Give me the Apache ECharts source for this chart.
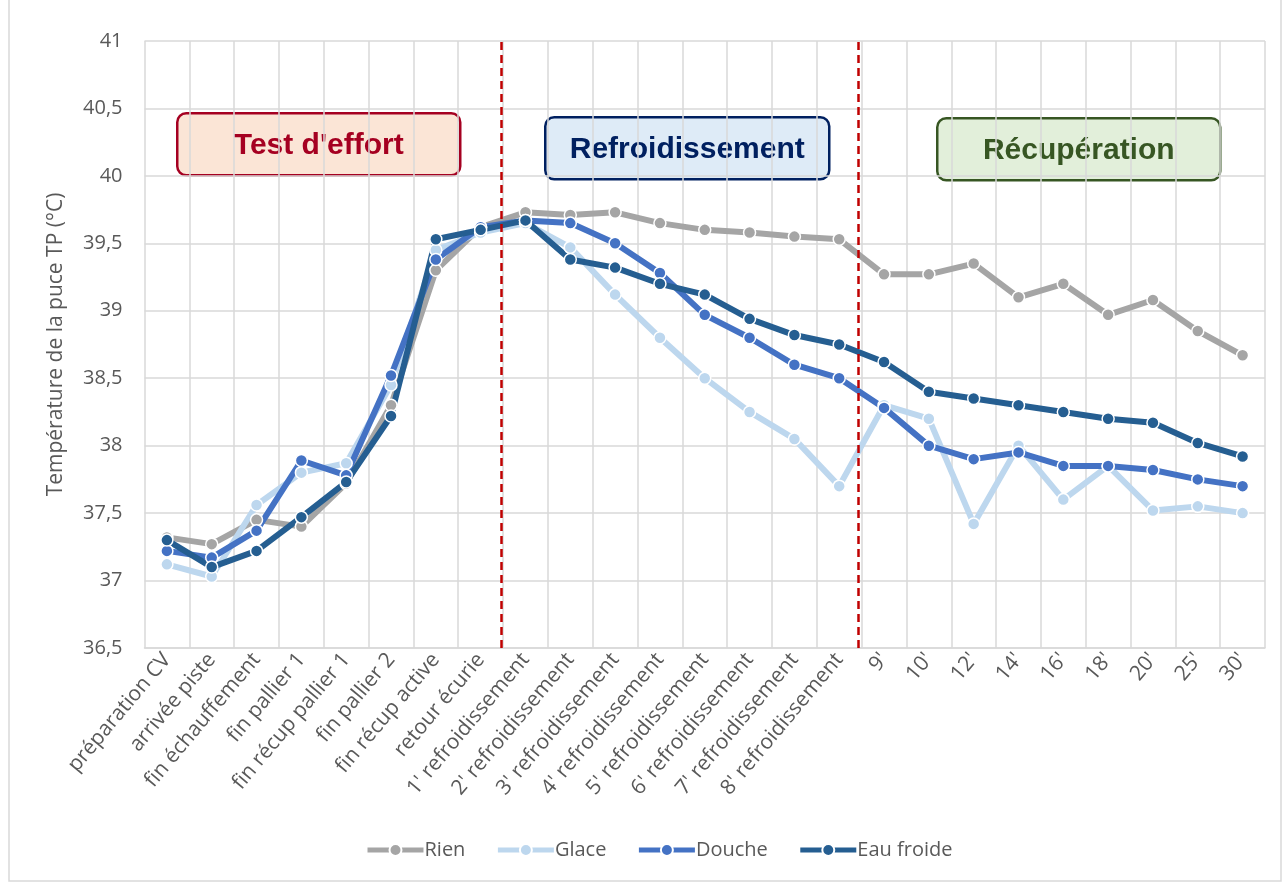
<!DOCTYPE html>
<html>
<head>
<meta charset="utf-8">
<title>Température de la puce TP</title>
<script src="https://cdn.jsdelivr.net/npm/echarts@6/dist/echarts.min.js"></script>
<style>
  html, body { margin: 0; padding: 0; background: #fff; }
  #chart { width: 1284px; height: 884px; }
</style>
</head>
<body>
<div id="chart"></div>
<script>
// étapes du protocole
const categories = [
  'préparation CV', 'arrivée piste', 'fin échauffement', 'fin pallier 1',
  'fin récup pallier 1', 'fin pallier 2', 'fin récup active', 'retour écurie',
  "1' refroidissement", "2' refroidissement", "3' refroidissement", "4' refroidissement",
  "5' refroidissement", "6' refroidissement", "7' refroidissement", "8' refroidissement",
  "9'", "10'", "12'", "14'", "16'", "18'", "20'", "25'", "30'"
];

// températures (°C)
const rien = [37.32, 37.27, 37.45, 37.40, 37.72, 38.30, 39.30, 39.62, 39.73, 39.71, 39.73, 39.65,
  39.60, 39.58, 39.55, 39.53, 39.27, 39.27, 39.35, 39.10, 39.20, 38.97, 39.08, 38.85, 38.67];
const glace = [37.12, 37.03, 37.56, 37.80, 37.87, 38.45, 39.45, 39.58, 39.65, 39.47, 39.12, 38.80,
  38.50, 38.25, 38.05, 37.70, 38.30, 38.20, 37.42, 38.00, 37.60, 37.85, 37.52, 37.55, 37.50];
const douche = [37.22, 37.17, 37.37, 37.89, 37.78, 38.52, 39.38, 39.62, 39.67, 39.65, 39.50, 39.28,
  38.97, 38.80, 38.60, 38.50, 38.28, 38.00, 37.90, 37.95, 37.85, 37.85, 37.82, 37.75, 37.70];
const eauFroide = [37.30, 37.10, 37.22, 37.47, 37.73, 38.22, 39.53, 39.60, 39.67, 39.38, 39.32, 39.20,
  39.12, 38.94, 38.82, 38.75, 38.62, 38.40, 38.35, 38.30, 38.25, 38.20, 38.17, 38.02, 37.92];

// limites des phases (en rang de catégorie)
const phaseBounds = [7.97, 15.93];

const colors = { rien: '#A5A5A5', glace: '#BDD7EE', douche: '#4472C4', eau: '#255E91' };
const font = '"Open Sans", "Noto Sans", sans-serif';

function mkSeries(name, data, color) {
  return {
    name: name,
    type: 'line',
    data: data,
    symbol: 'circle',
    symbolSize: 12,
    showAllSymbol: true,
    lineStyle: { width: 6, color: color },
    itemStyle: { color: color, borderColor: '#fff', borderWidth: 1.5 },
    emphasis: { disabled: true },
    animation: false
  };
}

function box(x, y, w, h, fill, stroke, text) {
  return {
    type: 'group',
    left: x, top: y,
    children: [{
      type: 'rect',
      shape: { x: 0, y: 0, width: w, height: h, r: 9 },
      style: { fill: fill, stroke: stroke, lineWidth: 2.5 }
    }, {
      type: 'text',
      x: w / 2, y: h / 2 + 1,
      style: {
        text: text, fill: stroke, font: 'bold 30px "Liberation Sans", Arial, sans-serif',
        align: 'center', verticalAlign: 'middle'
      }
    }]
  };
}

const chart = echarts.init(document.getElementById('chart'));
chart.setOption({
  backgroundColor: '#fff',
  animation: false,
  grid: { left: 144.5, right: 19, top: 41, bottom: 236 },
  legend: {
    bottom: 19,
    left: 360,
    itemWidth: 56,
    itemHeight: 15,
    itemGap: 30,
    lineStyle: { width: 5 },
    textStyle: { fontFamily: font, fontSize: 20, color: '#595959', padding: [0, 0, 0, -4] },
    data: ['Rien', 'Glace', 'Douche', 'Eau froide']
  },
  xAxis: [{
    type: 'category',
    data: categories,
    boundaryGap: true,
    axisLine: { lineStyle: { color: '#D9D9D9', width: 1.5 } },
    axisTick: { show: false },
    splitLine: { show: true, interval: 0, lineStyle: { color: '#D9D9D9', width: 1.5 } },
    axisLabel: {
      interval: 0, rotate: 50, fontFamily: font, fontSize: 21, color: '#595959', margin: 8
    }
  }, {
    type: 'value',
    min: 0, max: categories.length,
    show: false
  }],
  yAxis: {
    type: 'value',
    min: 36.5, max: 41, interval: 0.5,
    name: 'Température de la puce TP (°C)',
    nameLocation: 'middle',
    nameRotate: 90,
    nameGap: 78,
    nameTextStyle: { fontFamily: font, fontSize: 21, color: '#595959' },
    axisLine: { show: false },
    axisTick: { show: false },
    splitLine: { lineStyle: { color: '#D9D9D9', width: 1.5 } },
    axisLabel: {
      fontFamily: font, fontSize: 20, color: '#595959', margin: 22,
      formatter: v => String(v).replace('.', ',')
    }
  },
  series: [
    mkSeries('Rien', rien, colors.rien),
    mkSeries('Glace', glace, colors.glace),
    mkSeries('Douche', douche, colors.douche),
    mkSeries('Eau froide', eauFroide, colors.eau),
    {
      type: 'line',
      xAxisIndex: 1,
      data: [],
      silent: true,
      markLine: {
        symbol: 'none',
        silent: true,
        label: { show: false },
        lineStyle: { color: '#C00000', width: 2.5, type: [8, 5] },
        data: phaseBounds.map(b => ({ xAxis: b }))
      }
    }
  ],
  graphic: [
    {
      type: 'rect', silent: true,
      shape: { x: 9, y: -2, width: 1272, height: 883 },
      style: { fill: 'none', stroke: '#D9D9D9', lineWidth: 1.5 }
    },
    box(176, 112, 283, 62, '#FBE5D6', '#A50021', "Test d'effort"),
    box(544, 116, 284, 62, '#DEEBF7', '#002060', 'Refroidissement'),
    box(936, 117, 283, 62, '#E2EFDA', '#375623', 'Récupération')
  ]
});
</script>
</body>
</html>
